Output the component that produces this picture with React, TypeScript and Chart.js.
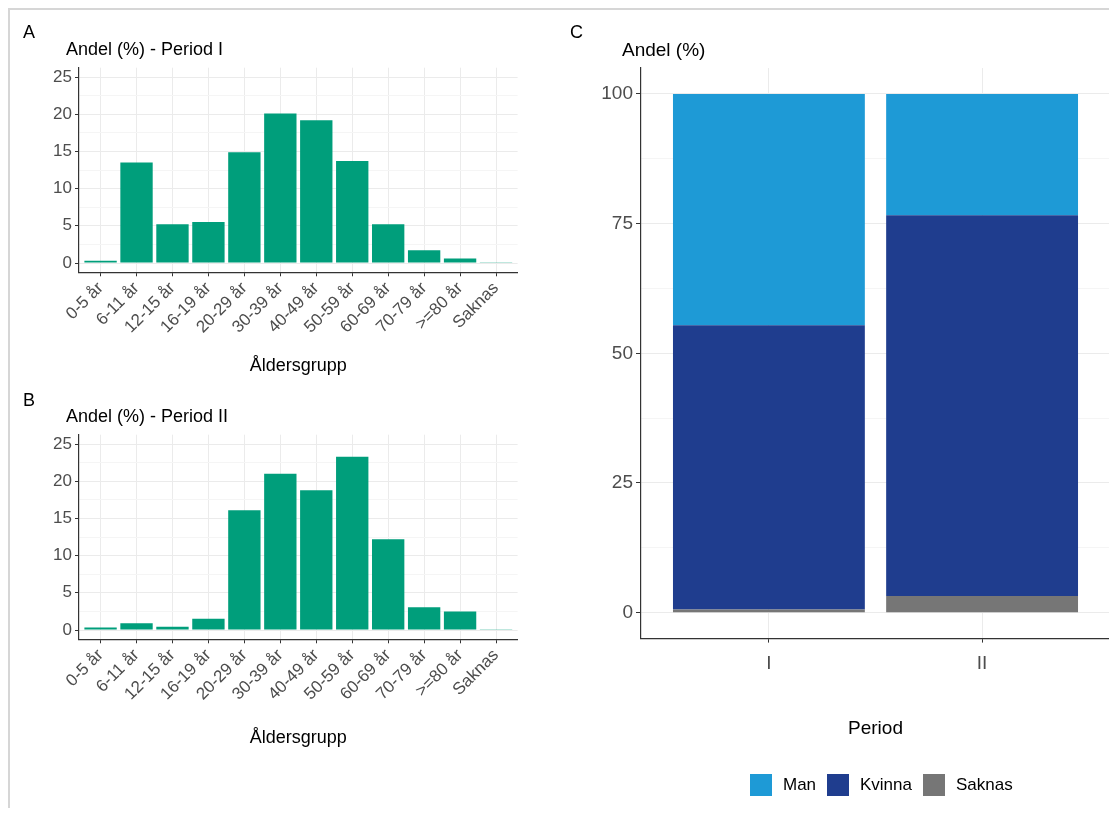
import React, { useEffect, useRef } from 'react';
import { Chart, registerables } from 'chart.js';

Chart.register(...registerables);

// Age-group distribution (%) per period
const ageGroups = ['0-5 år', '6-11 år', '12-15 år', '16-19 år', '20-29 år', '30-39 år', '40-49 år', '50-59 år', '60-69 år', '70-79 år', '>=80 år', 'Saknas'];
const periodIShares = [0.3, 13.5, 5.2, 5.5, 14.9, 20.1, 19.2, 13.7, 5.2, 1.7, 0.6, 0.05];
const periodIIShares = [0.35, 0.9, 0.45, 1.5, 16.1, 21.0, 18.8, 23.3, 12.2, 3.05, 2.5, 0.05];
const ageMajorTicks = [0, 5, 10, 15, 20, 25];
const ageMinorTicks = [2.5, 7.5, 12.5, 17.5, 22.5];

// Sex distribution (%) per period
const periods = ['I', 'II'];
const manShares = [44.6, 23.4];
const kvinnaShares = [54.8, 73.4];
const saknasShares = [0.6, 3.2];
const shareMajorTicks = [0, 25, 50, 75, 100];
const shareMinorTicks = [12.5, 37.5, 62.5, 87.5];
const sexLegendOrder = ['Man', 'Kvinna', 'Saknas'];

const FONT = "'Liberation Sans', Arial, Helvetica, sans-serif";
const AXIS_DARK = '#333333';
const TICK_TEXT = '#4d4d4d';
const GRID_MAJOR = '#ebebeb';
const GRID_MINOR = '#f5f5f5';
const TEAL = '#009E7B';
const SEX_COLORS: Record<string, string> = { Man: '#1E9AD6', Kvinna: '#1F3D8E', Saknas: '#767676' };

Chart.defaults.font.family = FONT;

type TextItem = { text: string; x: number | 'center'; y: number; size: number; color?: string; align?: CanvasTextAlign };

function textPlugin(items: TextItem[]) {
  return {
    id: 'panelText',
    afterDraw(chart: any) {
      const { ctx, chartArea } = chart;
      ctx.save();
      ctx.textBaseline = 'middle';
      for (const t of items) {
        ctx.font = `${t.size}px ${FONT}`;
        ctx.fillStyle = t.color || '#000';
        const x = t.x === 'center' ? (chartArea.left + chartArea.right) / 2 : t.x;
        ctx.textAlign = t.x === 'center' ? 'center' : t.align || 'left';
        ctx.fillText(t.text, x, t.y);
      }
      ctx.restore();
    },
  };
}

function withMinor(major: number[], minor: number[]) {
  return [...major, ...minor].sort((a, b) => a - b);
}

function ageChartConfig(values: number[], geom: { width: number; height: number; top: number; bottom: number }, texts: TextItem[]) {
  const allTicks = withMinor(ageMajorTicks, ageMinorTicks);
  const isMajor = (v: number) => ageMajorTicks.includes(v);
  return {
    type: 'bar' as const,
    data: {
      datasets: [
        {
          data: values.map((v, i) => ({ x: i, y: v })),
          backgroundColor: TEAL,
          borderWidth: 0,
          barPercentage: 0.9,
          categoryPercentage: 1,
        },
      ],
    },
    options: {
      responsive: false,
      animation: false as const,
      devicePixelRatio: 1,
      layout: { padding: { left: 0, top: geom.top, right: geom.width - 509.6, bottom: 0 } },
      plugins: { legend: { display: false }, tooltip: { enabled: false }, title: { display: false } },
      scales: {
        x: {
          type: 'linear' as const,
          offset: false,
          min: -0.6,
          max: ageGroups.length - 0.4,
          bounds: 'data' as const,
          afterBuildTicks: (s: any) => {
            s.ticks = ageGroups.map((_, i) => ({ value: i }));
          },
          afterFit: (s: any) => {
            s.height = geom.height - geom.bottom;
          },
          border: { display: true, color: AXIS_DARK, width: 1.2 },
          grid: { offset: false, color: GRID_MAJOR, tickColor: AXIS_DARK, tickLength: 4, lineWidth: 1 },
          ticks: {
            autoSkip: false,
            minRotation: 45,
            maxRotation: 45,
            padding: 2,
            color: TICK_TEXT,
            font: { size: 17, family: FONT },
            callback: (_v: any, i: number) => ageGroups[i],
          },
        },
        y: {
          type: 'linear' as const,
          min: -1.25,
          max: 26.25,
          bounds: 'data' as const,
          afterBuildTicks: (s: any) => {
            s.ticks = allTicks.map((v) => ({ value: v }));
          },
          afterFit: (s: any) => {
            s.width = 71;
          },
          border: { display: true, color: AXIS_DARK, width: 1.2 },
          grid: {
            color: (c: any) => (isMajor(c.tick.value) ? GRID_MAJOR : GRID_MINOR),
            tickColor: (c: any) => (isMajor(c.tick.value) ? AXIS_DARK : 'rgba(0,0,0,0)'),
            tickLength: 4,
            lineWidth: 1,
          },
          ticks: {
            autoSkip: false,
            padding: 3,
            color: TICK_TEXT,
            font: { size: 17, family: FONT },
            callback: (v: any) => (isMajor(Number(v)) ? String(v) : ''),
          },
        },
      },
    },
    plugins: [textPlugin(texts)],
  };
}

function sexChartConfig() {
  const allTicks = withMinor(shareMajorTicks, shareMinorTicks);
  const isMajor = (v: number) => shareMajorTicks.includes(v);
  const series: [string, number[]][] = [
    ['Saknas', saknasShares],
    ['Kvinna', kvinnaShares],
    ['Man', manShares],
  ];
  const legendPlugin = {
    id: 'sexLegend',
    afterDraw(chart: any) {
      const { ctx } = chart;
      const boxX = [192, 269, 365];
      const y = 777;
      ctx.save();
      ctx.font = `17px ${FONT}`;
      ctx.textBaseline = 'middle';
      ctx.textAlign = 'left';
      sexLegendOrder.forEach((label, i) => {
        ctx.fillStyle = SEX_COLORS[label];
        ctx.fillRect(boxX[i], y - 11, 22, 22);
        ctx.fillStyle = '#000';
        ctx.fillText(label, boxX[i] + 33, y);
      });
      ctx.restore();
    },
  };
  return {
    type: 'bar' as const,
    data: {
      datasets: series.map(([label, vals]) => ({
        label,
        stack: 'total',
        data: vals.map((v, i) => ({ x: i, y: v })),
        backgroundColor: SEX_COLORS[label],
        borderWidth: 0,
        barPercentage: 0.9,
        categoryPercentage: 1,
      })),
    },
    options: {
      responsive: false,
      animation: false as const,
      devicePixelRatio: 1,
      layout: { padding: { left: 0, top: 60, right: 7, bottom: 0 } },
      plugins: { legend: { display: false }, tooltip: { enabled: false }, title: { display: false } },
      scales: {
        x: {
          type: 'linear' as const,
          offset: false,
          min: -0.6,
          max: periods.length - 0.4,
          bounds: 'data' as const,
          afterBuildTicks: (s: any) => {
            s.ticks = periods.map((_, i) => ({ value: i }));
          },
          afterFit: (s: any) => {
            s.height = 800 - 630.6;
          },
          border: { display: true, color: AXIS_DARK, width: 1.2 },
          grid: { offset: false, color: GRID_MAJOR, tickColor: AXIS_DARK, tickLength: 4, lineWidth: 1 },
          ticks: {
            autoSkip: false,
            maxRotation: 0,
            padding: 10,
            color: TICK_TEXT,
            font: { size: 19, family: FONT },
            callback: (_v: any, i: number) => periods[i],
          },
        },
        y: {
          type: 'linear' as const,
          stacked: true,
          min: -5,
          max: 105,
          bounds: 'data' as const,
          afterBuildTicks: (s: any) => {
            s.ticks = allTicks.map((v) => ({ value: v }));
          },
          afterFit: (s: any) => {
            s.width = 83;
          },
          border: { display: true, color: AXIS_DARK, width: 1.2 },
          grid: {
            color: (c: any) => (isMajor(c.tick.value) ? GRID_MAJOR : GRID_MINOR),
            tickColor: (c: any) => (isMajor(c.tick.value) ? AXIS_DARK : 'rgba(0,0,0,0)'),
            tickLength: 5,
            lineWidth: 1,
          },
          ticks: {
            autoSkip: false,
            padding: 3,
            color: TICK_TEXT,
            font: { size: 19, family: FONT },
            callback: (v: any) => (isMajor(Number(v)) ? String(v) : ''),
          },
        },
      },
    },
    plugins: [
      textPlugin([
        { text: 'C', x: 12, y: 25, size: 18 },
        { text: 'Andel (%)', x: 64, y: 43, size: 19 },
        { text: 'Period', x: 'center', y: 721, size: 19 },
      ]),
      legendPlugin,
    ],
  };
}

function ChartCanvas({ config, width, height, left, top }: { config: () => any; width: number; height: number; left: number; top: number }) {
  const ref = useRef<HTMLCanvasElement | null>(null);
  useEffect(() => {
    if (!ref.current) return;
    const chart = new Chart(ref.current, config());
    return () => chart.destroy();
  }, []);
  return (
    <canvas
      ref={ref}
      width={width}
      height={height}
      style={{ position: 'absolute', left, top, width, height, display: 'block' }}
    />
  );
}

export default function App() {
  return (
    <div style={{ position: 'relative', width: 1109, height: 800, overflow: 'hidden', background: '#fff' }}>
      <div
        style={{
          position: 'absolute',
          left: 0,
          top: 0,
          width: 1109,
          height: 800,
          boxSizing: 'border-box',
          borderTop: '2px solid #d6d6d6',
          borderLeft: '2px solid #d6d6d6',
        }}
      />
      <ChartCanvas
        left={0}
        top={0}
        width={550}
        height={382}
        config={() =>
          ageChartConfig(periodIShares, { width: 550, height: 382, top: 59.7, bottom: 264.3 }, [
            { text: 'A', x: 15, y: 25, size: 18 },
            { text: 'Andel (%) - Period I', x: 58, y: 42, size: 18 },
            { text: 'Åldersgrupp', x: 'center', y: 358, size: 18 },
          ])
        }
      />
      <ChartCanvas
        left={0}
        top={382}
        width={550}
        height={418}
        config={() =>
          ageChartConfig(periodIIShares, { width: 550, height: 418, top: 44.7, bottom: 249.3 }, [
            { text: 'B', x: 15, y: 11, size: 18 },
            { text: 'Andel (%) - Period II', x: 58, y: 27, size: 18 },
            { text: 'Åldersgrupp', x: 'center', y: 348, size: 18 },
          ])
        }
      />
      <ChartCanvas left={550} top={0} width={559} height={800} config={sexChartConfig} />
    </div>
  );
}
